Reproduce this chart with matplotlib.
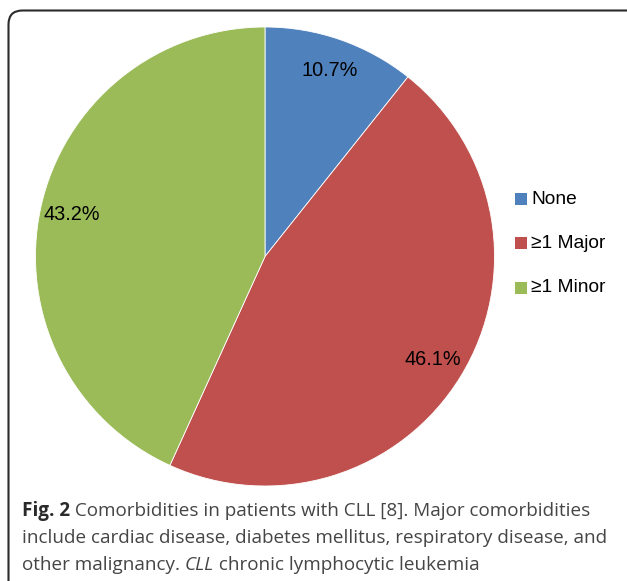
import matplotlib.pyplot as plt
from matplotlib.patches import Rectangle
from matplotlib.path import Path
from matplotlib.patches import PathPatch

# datos del grafico
categorias = ["None", "≥1 Major", "≥1 Minor"]
porcentajes = [10.7, 46.1, 43.2]
colores = ["#4F81BD", "#C0504D", "#9BBB59"]

W, H = 627, 581
fig = plt.figure(figsize=(W / 100, H / 100), dpi=100)
fig.patch.set_facecolor("white")

# marco redondeado (solo izquierda y arriba visibles)
r = 14
x0, y0 = 8.5, H - 10.5
verts = [(x0, 0), (x0, y0 - r), (x0, y0), (x0 + r, y0), (W + 5, y0)]
codes = [Path.MOVETO, Path.LINETO, Path.CURVE3, Path.CURVE3, Path.LINETO]
marco = PathPatch(Path([(vx / W, vy / H) for vx, vy in verts], codes),
                  transform=fig.transFigure, fill=False, edgecolor="#2b2b2b",
                  linewidth=1.5)
fig.patches.append(marco)

# pie
cx, cy, rad = 265, H - 256.5, 229.5
ax = fig.add_axes([(cx - rad) / W, (cy - rad) / H, 2 * rad / W, 2 * rad / H])
wedges, textos, autotextos = ax.pie(
    porcentajes, colors=colores, startangle=90, counterclock=False,
    autopct=lambda p: f"{p:.1f}%", pctdistance=0.86, radius=1,
    wedgeprops=dict(edgecolor="white", linewidth=0.6),
    textprops=dict(fontsize=14.3, family="Liberation Sans", color="black"))
ax.set_xlim(-1, 1)
ax.set_ylim(-1, 1)
ax.set_aspect("equal")
ax.axis("off")

# leyenda manual
ley_y = [199, 243, 288]
for cat, col, yy in zip(categorias, colores, ley_y):
    fig.patches.append(Rectangle((515 / W, (H - yy - 6) / H), 12 / W, 12 / H,
                                 transform=fig.transFigure, facecolor=col,
                                 edgecolor="none"))
    fig.text(531 / W, (H - yy) / H, cat, fontsize=13.8, family="Liberation Sans",
             va="center", ha="left", color="black")

# pie de figura
cap_kw = dict(fontsize=13.6, family="Open Sans", color="#454545", va="center")
fig.canvas.draw()
renderer = fig.canvas.get_renderer()


def escribir(partes, x, y):
    for txt, estilo in partes:
        t = fig.text(x / W, (H - y) / H, txt, **{**cap_kw, **estilo})
        bb = t.get_window_extent(renderer=renderer)
        x = bb.x1


escribir([("Fig. 2", dict(weight="bold", color="#2a2a2a")),
          (" Comorbidities in patients with CLL [8]. Major comorbidities", {})],
         22, 511)
escribir([("include cardiac disease, diabetes mellitus, respiratory disease, and", {})],
         22, 538)
escribir([("other malignancy. ", {}), ("CLL", dict(style="italic")),
          (" chronic lymphocytic leukemia", {})], 22, 565)

fig.savefig("out.png", dpi=100)
